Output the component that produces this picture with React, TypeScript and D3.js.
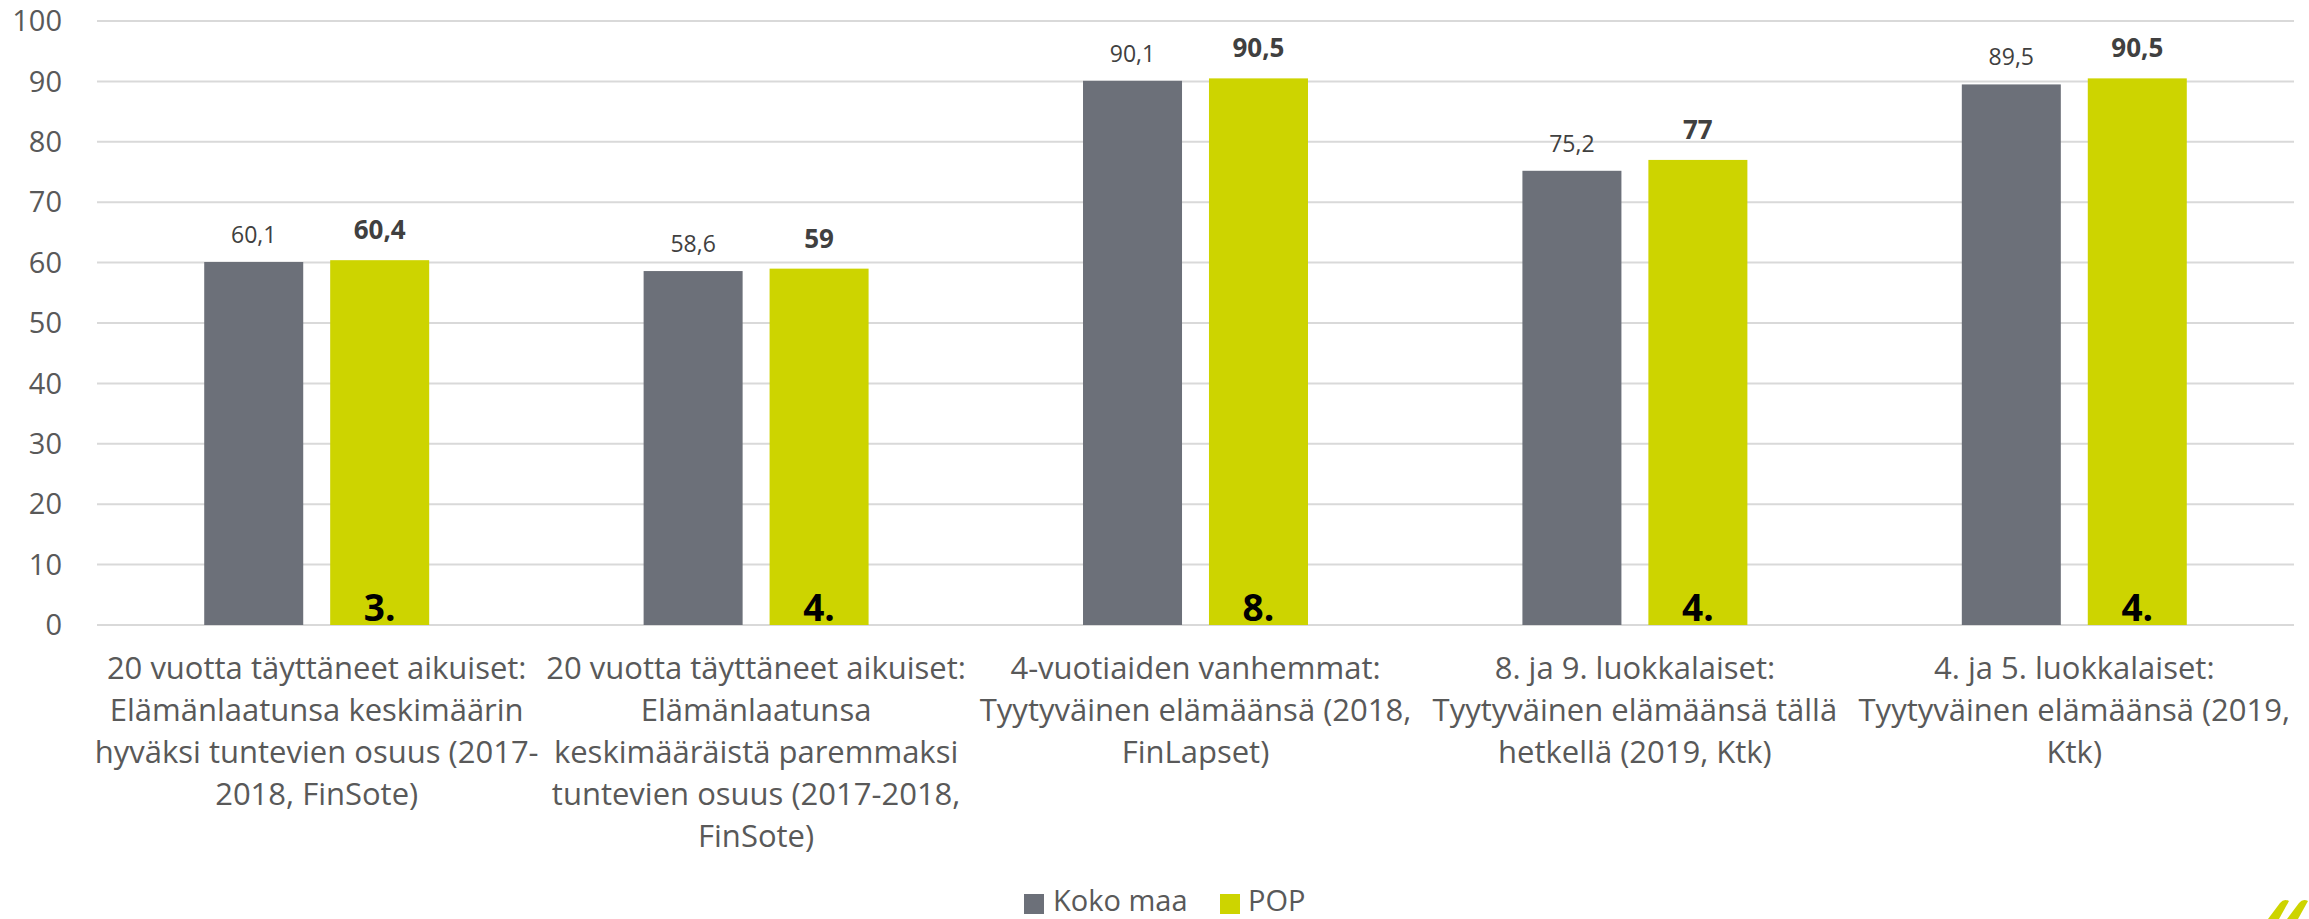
import React from "react";
import * as d3 from "d3";

// chart data
const categories: string[][] = [
  ["20 vuotta täyttäneet aikuiset:", "Elämänlaatunsa keskimäärin", "hyväksi tuntevien osuus (2017-", "2018, FinSote)"],
  ["20 vuotta täyttäneet aikuiset:", "Elämänlaatunsa", "keskimääräistä paremmaksi", "tuntevien osuus (2017-2018,", "FinSote)"],
  ["4-vuotiaiden vanhemmat:", "Tyytyväinen elämäänsä (2018,", "FinLapset)"],
  ["8. ja 9. luokkalaiset:", "Tyytyväinen elämäänsä tällä", "hetkellä (2019, Ktk)"],
  ["4. ja 5. luokkalaiset:", "Tyytyväinen elämäänsä (2019,", "Ktk)"],
];
const kokoMaa = [60.1, 58.6, 90.1, 75.2, 89.5];
const pop = [60.4, 59, 90.5, 77, 90.5];
const ranks = ["3.", "4.", "8.", "4.", "4."];
const yTicks = [0, 10, 20, 30, 40, 50, 60, 70, 80, 90, 100];
const seriesNames = ["Koko maa", "POP"];

const W = 2309;
const H = 919;
const GRAY = "#6c7079";
const GREEN = "#cdd400";
const FONT = "'Open Sans', 'Noto Sans', sans-serif";

const fmt = (v: number) => String(v).replace(".", ",");

const App = () => {
  const x0 = d3
    .scaleBand<number>()
    .domain(d3.range(categories.length))
    .range([97, 2294])
    .paddingInner(0.488)
    .paddingOuter(0.244);
  const x1 = d3
    .scaleBand<string>()
    .domain(seriesNames)
    .range([0, x0.bandwidth()])
    .paddingInner(0.214);
  const y = d3.scaleLinear().domain([0, 100]).range([625, 21]);

  const series = [
    { name: seriesNames[0], values: kokoMaa, color: GRAY },
    { name: seriesNames[1], values: pop, color: GREEN },
  ];

  return (
    <svg
      width={W}
      height={H}
      style={{ position: "absolute", left: 0, top: 0, background: "#fff" }}
      fontFamily={FONT}
    >
      {/* gridlines + ticks */}
      {yTicks.map(t => (
        <g key={t}>
          <line x1={97} x2={2294} y1={y(t)} y2={y(t)} stroke="#d9d9d9" strokeWidth={2} />
          <text x={62} y={y(t)} dy="0.35em" textAnchor="end" fontSize={29} fill="#595959">
            {t}
          </text>
        </g>
      ))}

      {/* bars */}
      {categories.map((_, i) => (
        <g key={i} transform={`translate(${x0(i)},0)`}>
          {series.map((s, j) => {
            const bx = x1(s.name)!;
            const by = y(s.values[i]);
            return (
              <g key={s.name}>
                <rect x={bx} y={by} width={x1.bandwidth()} height={y(0) - by} fill={s.color} />
                <text
                  x={bx + x1.bandwidth() / 2}
                  y={by - (j === 0 ? 19 : 21)}
                  textAnchor="middle"
                  fontSize={j === 0 ? 23 : 26}
                  fontWeight={j === 0 ? 400 : 700}
                  fill="#404040"
                >
                  {fmt(s.values[i])}
                </text>
              </g>
            );
          })}
          <text
            x={x1(seriesNames[1])! + x1.bandwidth() / 2}
            y={621}
            textAnchor="middle"
            fontSize={37}
            fontWeight={700}
            fill="#000"
          >
            {ranks[i]}
          </text>
        </g>
      ))}

      {/* category labels */}
      {categories.map((lines, i) => (
        <text
          key={i}
          x={x0(i)! + x0.bandwidth() / 2}
          y={679}
          textAnchor="middle"
          fontSize={31}
          fill="#595959"
        >
          {lines.map((l, k) => (
            <tspan key={k} x={x0(i)! + x0.bandwidth() / 2} dy={k === 0 ? 0 : 42}>
              {l}
            </tspan>
          ))}
        </text>
      ))}

      {/* legend */}
      <g>
        <rect x={1024} y={894} width={20} height={20} fill={GRAY} />
        <text x={1053} y={911} fontSize={29} fill="#595959">
          {seriesNames[0]}
        </text>
        <rect x={1220} y={894} width={20} height={20} fill={GREEN} />
        <text x={1248} y={911} fontSize={29} fill="#595959">
          {seriesNames[1]}
        </text>
      </g>

      {/* cut-off logo mark, bottom right */}
      <g fill={GREEN}>
        <path d="M2280,903 Q2284,898 2289,901 L2279,919 L2268,919 Z" />
        <path d="M2299,903 Q2303,898 2308,901 L2298,919 L2287,919 Z" />
      </g>
    </svg>
  );
};

export default App;
